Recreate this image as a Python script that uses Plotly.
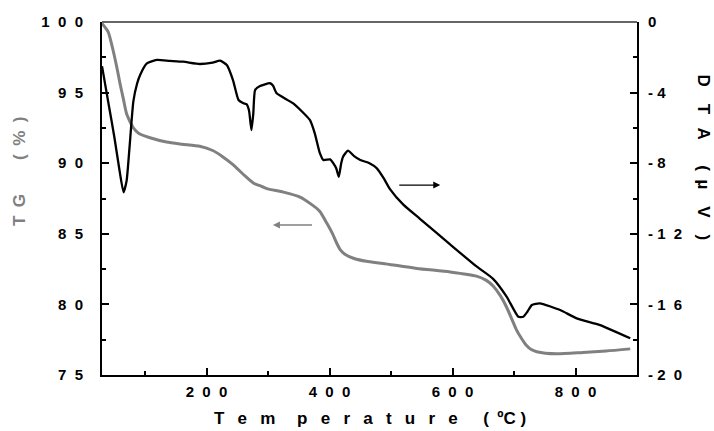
import plotly.graph_objects as go

# ---------------- data ----------------
tg_temp = [30, 40, 48, 55, 59, 65, 70, 76, 81, 90, 108, 135, 160, 189, 210, 225, 243, 260,
           276, 290, 298, 325, 352, 370, 384, 395, 405, 411, 417, 425, 440, 460, 487, 542,
           596, 639, 655, 666, 678, 688, 697, 704, 712, 720, 728, 737, 769, 812, 850, 889]
tg_val = [99.9, 99.3, 98.0, 96.6, 95.7, 94.5, 93.5, 92.9, 92.5, 92.1, 91.8, 91.5, 91.35, 91.2,
          90.9, 90.5, 89.9, 89.2, 88.6, 88.35, 88.2, 87.95, 87.6, 87.1, 86.6, 85.8, 85.0, 84.4,
          83.9, 83.55, 83.25, 83.05, 82.9, 82.55, 82.3, 82.0, 81.7, 81.3, 80.6, 79.8, 78.9,
          78.2, 77.6, 77.1, 76.8, 76.65, 76.5, 76.6, 76.7, 76.85]

dta_temp = [30, 40, 50, 58, 65, 70, 75, 81, 87, 92, 103, 119, 140, 162, 189, 210, 222, 233,
            243, 252, 260, 265, 269, 273, 276, 279, 287, 303, 308, 314, 341, 368, 376, 384,
            390, 401, 406, 411, 415, 419, 422, 430, 440, 450, 465, 477, 488, 498, 520, 547,
            596, 639, 666, 688, 707, 715, 722, 729, 742, 775, 802, 840, 889]
dta_val = [-2.5, -4.5, -6.5, -8.3, -9.65, -9.0, -7.0, -4.5, -3.5, -3.0, -2.35, -2.15, -2.2,
           -2.25, -2.38, -2.3, -2.19, -2.44, -3.29, -4.42, -4.6, -4.65, -5.0, -6.12, -5.2,
           -3.85, -3.63, -3.47, -3.6, -4.04, -4.61, -5.55, -6.31, -7.4, -7.82, -7.78, -8.0,
           -8.3, -8.77, -8.0, -7.63, -7.29, -7.6, -7.82, -8.0, -8.29, -8.85, -9.45, -10.35,
           -11.15, -12.6, -13.85, -14.55, -15.56, -16.7, -16.7, -16.4, -16.03, -15.94, -16.32,
           -16.79, -17.17, -17.92]

x_ticks = [200, 400, 600, 800]
x_ticklabels = ["2\u00a0\u00a00\u00a0\u00a00", "4\u00a0\u00a00\u00a0\u00a00",
                "6\u00a0\u00a00\u00a0\u00a00", "8\u00a0\u00a00\u00a0\u00a00"]
tg_ticks = [75, 80, 85, 90, 95, 100]
tg_ticklabels = ["7\u00a0\u00a05", "8\u00a0\u00a00", "8\u00a0\u00a05", "9\u00a0\u00a00",
                 "9\u00a0\u00a05", "1\u00a0\u00a00\u00a0\u00a00"]
dta_ticks = [0, -4, -8, -12, -16, -20]
dta_ticklabels = ["0", "-\u00a04", "-\u00a08", "-\u00a01\u00a0\u00a02", "-\u00a01\u00a0\u00a06",
                  "-\u00a02\u00a0\u00a00"]

GREY = "#808080"
FONT = "Liberation Sans"

fig = go.Figure()
fig.add_trace(go.Scatter(x=tg_temp, y=tg_val, mode="lines",
                         line=dict(color=GREY, width=3, shape="spline", smoothing=0.6),
                         showlegend=False, yaxis="y"))
fig.add_trace(go.Scatter(x=dta_temp, y=dta_val, mode="lines",
                         line=dict(color="black", width=2.3, shape="spline", smoothing=0.5),
                         showlegend=False, yaxis="y2"))

tickfont = dict(family=FONT, size=15, color="black", weight="bold")

fig.update_layout(
    width=714, height=431,
    margin=dict(l=102, r=77, t=22, b=56),
    paper_bgcolor="white", plot_bgcolor="white",
    xaxis=dict(range=[30, 900], showgrid=False, zeroline=False,
               showline=True, linecolor="black", linewidth=2,
               tickvals=x_ticks, ticktext=x_ticklabels,
               ticks="inside", ticklen=7, tickwidth=1.5, tickcolor="black",
               minor=dict(dtick=100, tick0=0, ticks="inside", ticklen=4, tickwidth=1.5,
                          tickcolor="black", showgrid=False),
               tickfont=tickfont, ticklabelstandoff=2),
    yaxis=dict(range=[75, 100], showgrid=False, zeroline=False,
               showline=True, linecolor="black", linewidth=2,
               tickvals=tg_ticks, ticktext=tg_ticklabels,
               ticks="inside", ticklen=7, tickwidth=1.5, tickcolor="black",
               minor=dict(dtick=2.5, tick0=75, ticks="inside", ticklen=4, tickwidth=1.5,
                          tickcolor="black", showgrid=False),
               tickfont=tickfont, ticklabelstandoff=14),
    yaxis2=dict(range=[-20, 0], overlaying="y", side="right", showgrid=False, zeroline=False,
                showline=True, linecolor="black", linewidth=2,
                tickvals=dta_ticks, ticktext=dta_ticklabels,
                ticks="inside", ticklen=7, tickwidth=1.5, tickcolor="black",
                minor=dict(dtick=2, tick0=0, ticks="inside", ticklen=4, tickwidth=1.5,
                           tickcolor="black", showgrid=False),
                tickfont=tickfont, ticklabelstandoff=6),
)

# top frame line
fig.add_shape(type="line", xref="paper", yref="paper", x0=0, x1=1, y0=1, y1=1,
              line=dict(color="#333333", width=1.3))

# arrows
fig.add_annotation(x=580, y=-9.24, ax=511, ay=-9.24, xref="x", yref="y2",
                   axref="x", ayref="y2", showarrow=True, arrowhead=2, arrowsize=1,
                   arrowwidth=1.4, arrowcolor="black", text="", standoff=0, startstandoff=0)
fig.add_annotation(x=308, y=85.62, ax=374, ay=85.62, xref="x", yref="y",
                   axref="x", ayref="y", showarrow=True, arrowhead=2, arrowsize=1,
                   arrowwidth=1.4, arrowcolor=GREY, text="", standoff=0, startstandoff=0)

titlefont = dict(family=FONT, size=17, weight="bold")
fig.add_annotation(xref="paper", yref="paper", x=-0.153, y=0.578, showarrow=False,
                   textangle=-90, xanchor="center", yanchor="middle",
                   text="T\u2002G\u2003\u2003(\u2002%\u2002)",
                   font=dict(**titlefont, color=GREY))
fig.add_annotation(xref="paper", yref="paper", x=1.124, y=0.615, showarrow=False,
                   textangle=90, xanchor="center", yanchor="middle",
                   text="D\u2003T\u2002\u00a0A\u2003\u2002(\u2002\u00b5\u2003V\u2003)",
                   font=dict(**titlefont, color="black"))
xtitle = "\u2002\u00a0".join(list("Tem")) + "\u2003\u00a0" + "\u2002\u00a0".join(list("perature")) \
    + "\u2003\u2002(\u2002\u00baC\u00a0)"
fig.add_annotation(xref="paper", yref="paper", x=0.501, y=-0.122, showarrow=False,
                   xanchor="center", yanchor="middle", text=xtitle,
                   font=dict(**titlefont, color="black"))

fig.write_html("out.html")
